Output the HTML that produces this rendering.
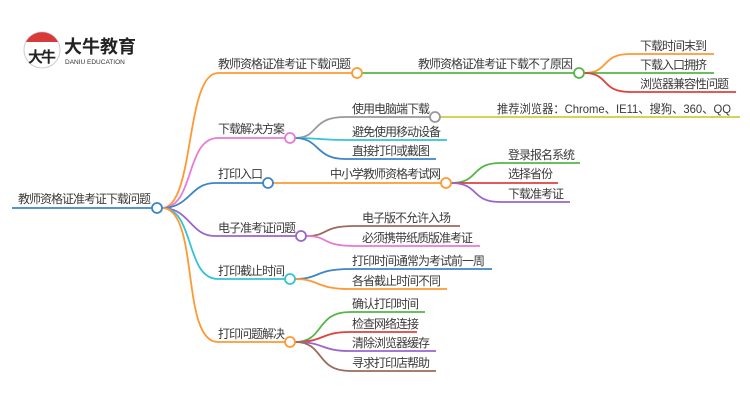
<!DOCTYPE html>
<html><head><meta charset="utf-8"><style>
html,body{margin:0;padding:0;background:#fff;}
svg text{font-family:"Liberation Sans","Noto Sans CJK SC",sans-serif;font-size:12px;letter-spacing:-1px;fill:#3a3a3a;}
</style></head><body>
<svg width="750" height="410" viewBox="0 0 750 410" xmlns="http://www.w3.org/2000/svg">
<g fill="none" stroke-width="1.8">
<path d="M12 208H152" stroke="#3d85c6"/>
<path d="M162 208C195 208 185 73 218 73H352" stroke="#ff9933"/>
<path d="M162 208C195 208 185 138 218 138H285" stroke="#e879d6"/>
<path d="M162 208C190 208 190 183 215 183H263" stroke="#3d85c6"/>
<path d="M162 208C190 208 190 236 215 236H296" stroke="#9966cc"/>
<path d="M162 208C195 208 185 279 218 279H285" stroke="#33c3d6"/>
<path d="M162 208C200 208 180 342 218 342H285" stroke="#ff9933"/>
<path d="M362 73H574" stroke="#55b54a"/>
<path d="M584 73C610 73 600 54 630 54H714" stroke="#ff9933"/>
<path d="M584 73H714" stroke="#55b54a"/>
<path d="M584 73C610 73 600 92 630 92H736" stroke="#e04040"/>
<path d="M295 138C320 138 310 117 345 117H430" stroke="#999"/>
<path d="M440 117H740" stroke="#cccc44"/>
<path d="M295 138C320 138 320 140 345 140H447" stroke="#33c3d6"/>
<path d="M295 138C320 138 315 159 345 159H436" stroke="#3d85c6"/>
<path d="M273 183H441" stroke="#ff9933"/>
<path d="M451 183C480 183 470 163 500 163H580" stroke="#55b54a"/>
<path d="M451 183H558" stroke="#e04040"/>
<path d="M451 183C480 183 470 202 500 202H570" stroke="#9966cc"/>
<path d="M306 236C330 236 320 226 355 226H460" stroke="#9b6b5b"/>
<path d="M306 236C330 236 320 246 355 246H480" stroke="#e879d6"/>
<path d="M295 279C320 279 315 269 350 269H492" stroke="#3d85c6"/>
<path d="M295 279C320 279 315 289 350 289H447" stroke="#ff9933"/>
<path d="M295 342C325 342 315 312 350 312H425" stroke="#55b54a"/>
<path d="M295 342C325 342 320 332 350 332H417" stroke="#e04040"/>
<path d="M295 342C325 342 320 351 350 351H436" stroke="#9966cc"/>
<path d="M295 342C325 342 315 371 350 371H436" stroke="#9b6b5b"/>
</g>
<g fill="#fff" stroke-width="1.8">
<circle cx="157" cy="208" r="5" stroke="#3d85c6"/>
<circle cx="357" cy="73" r="5" stroke="#ff9933"/>
<circle cx="579" cy="73" r="5" stroke="#55b54a"/>
<circle cx="290" cy="138" r="5" stroke="#e879d6"/>
<circle cx="435" cy="117" r="5" stroke="#999"/>
<circle cx="268" cy="183" r="5" stroke="#3d85c6"/>
<circle cx="446" cy="183" r="5" stroke="#ff9933"/>
<circle cx="301" cy="236" r="5" stroke="#9966cc"/>
<circle cx="290" cy="279" r="5" stroke="#33c3d6"/>
<circle cx="290" cy="342" r="5" stroke="#ff9933"/>
</g>
<text x="18" y="203">教师资格证准考证下载问题</text>
<text x="218" y="68">教师资格证准考证下载问题</text>
<text x="418" y="68">教师资格证准考证下载不了原因</text>
<text x="640" y="50">下载时间末到</text>
<text x="640" y="69">下载入口拥挤</text>
<text x="640" y="88">浏览器兼容性问题</text>
<text x="218" y="133">下载解决方案</text>
<text x="352" y="113">使用电脑端下载</text>
<text x="497" y="113" textLength="234" lengthAdjust="spacingAndGlyphs" style="letter-spacing:0">推荐浏览器：Chrome、IE11、搜狗、360、QQ</text>
<text x="352" y="136">避免使用移动设备</text>
<text x="352" y="155">直接打印或截图</text>
<text x="218" y="178">打印入口</text>
<text x="330" y="178">中小学教师资格考试网</text>
<text x="508" y="159">登录报名系统</text>
<text x="508" y="178">选择省份</text>
<text x="508" y="198">下载准考证</text>
<text x="218" y="232">电子准考证问题</text>
<text x="362" y="222">电子版不允许入场</text>
<text x="362" y="242">必须携带纸质版准考证</text>
<text x="218" y="275">打印截止时间</text>
<text x="352" y="265">打印时间通常为考试前一周</text>
<text x="352" y="285">各省截止时间不同</text>
<text x="218" y="338">打印问题解决</text>
<text x="352" y="308">确认打印时间</text>
<text x="352" y="328">检查网络连接</text>
<text x="352" y="347">清除浏览器缓存</text>
<text x="352" y="367">寻求打印店帮助</text>
<circle cx="42" cy="50" r="18" fill="#fff" stroke="#ccc" stroke-width="1"/>
<path d="M26 42A18 18 0 0 1 58 42Z" fill="#d83a3a"/>
<text x="28" y="62" style="font-size:15px;fill:#222;font-weight:bold;letter-spacing:-2px">大牛</text>
<text x="64" y="53" style="font-size:18px;fill:#222;font-weight:bold;letter-spacing:0">大牛教育</text>
<text x="65" y="64" style="font-size:6.5px;fill:#333;letter-spacing:0">DANIU EDUCATION</text>
</svg>
</body></html>
